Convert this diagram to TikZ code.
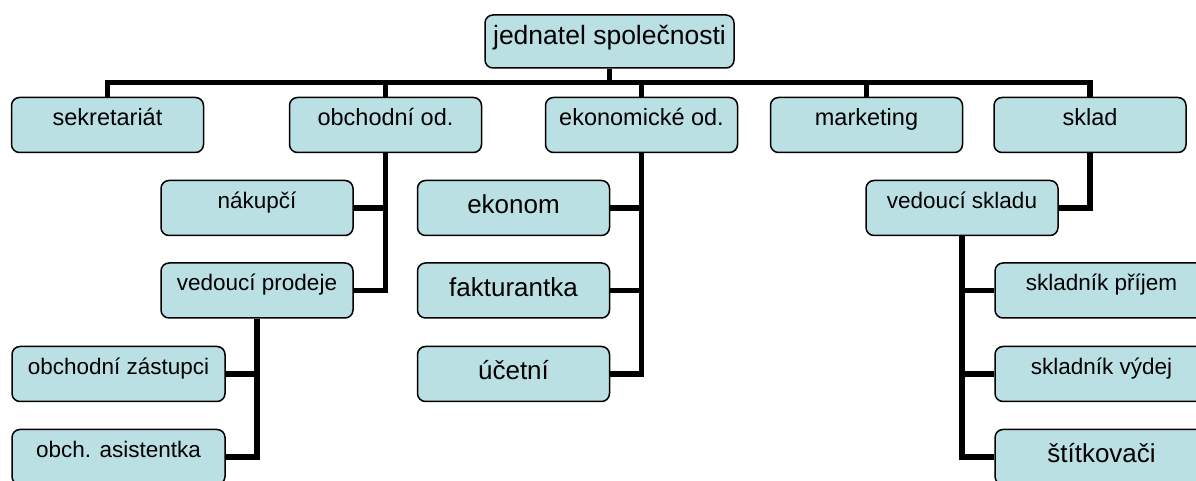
\documentclass[tikz,border=0pt]{standalone}
\usepackage{fontspec}
\setmainfont{Liberation Sans}
\definecolor{boxfill}{RGB}{187,224,227}

\begin{document}
\begin{tikzpicture}[x=1pt, y=1pt,
    unit/.style={draw, fill=boxfill, line width=1.5pt, rounded corners=8pt, minimum width=192pt,
        inner xsep=0pt, inner ysep=0pt, text height=28pt, text depth=27pt, font=\fontsize{22.5}{27}\selectfont},
    topunit/.style={unit, font=\fontsize{23.5}{28}\selectfont},
    bigunit/.style={unit, text height=33.5pt, text depth=21.5pt, font=\fontsize{26}{31}\selectfont},
    wideunit/.style={unit, minimum width=213pt},
    link/.style={line width=5.5pt}]
    \useasboundingbox (0, 0) rectangle (1196, 481);

    \node[unit, minimum width=249pt, text height=30pt, text depth=23pt, font=\fontsize{26.5}{31}\selectfont] (boss) at (609.5, 439.5) {jednatel společnosti};

    \node[topunit] (sekr) at (107.5, 356) {sekretariát};
    \node[topunit] (obch) at (385.5, 356) {obchodní od.};
    \node[topunit] (ekon) at (641.5, 356) {ekonomické od.};
    \node[topunit] (mark) at (866.5, 356) {marketing};
    \node[topunit] (sklad) at (1090, 356) {sklad};

    \node[unit] (nakup) at (257, 273) {nákupčí};
    \node[unit] (vedp) at (257, 190.5) {vedoucí prodeje};
    \node[wideunit] (zast) at (118.5, 107) {obchodní zástupci};
    \node[wideunit] (asist) at (118.5, 24) {obch. asistentka};

    \node[bigunit] (ekonom) at (513.5, 273) {ekonom};
    \node[bigunit] (faktur) at (513.5, 190.5) {fakturantka};
    \node[bigunit] (ucet) at (513.5, 107) {účetní};

    \node[unit] (veds) at (962, 273) {vedoucí skladu};
    \node[wideunit] (prij) at (1101.5, 190.5) {skladník příjem};
    \node[wideunit] (vydej) at (1101.5, 107) {skladník výdej};
    \node[bigunit, minimum width=213pt] (stit) at (1101.5, 24) {štítkovači};

    \draw[link] (boss.south) -- ++(0, -14) -| (sekr.north);
    \draw[link] (boss.south) -- ++(0, -14) -| (obch.north);
    \draw[link] (boss.south) -- ++(0, -14) -| (ekon.north);
    \draw[link] (boss.south) -- ++(0, -14) -| (mark.north);
    \draw[link] (boss.south) -- ++(0, -14) -| (sklad.north);

    \draw[link] (obch.south) |- (nakup.east);
    \draw[link] (obch.south) |- (vedp.east);
    \draw[link] (vedp.south) |- (zast.east);
    \draw[link] (vedp.south) |- (asist.east);

    \draw[link] (ekon.south) |- (ekonom.east);
    \draw[link] (ekon.south) |- (faktur.east);
    \draw[link] (ekon.south) |- (ucet.east);

    \draw[link] (sklad.south) |- (veds.east);
    \draw[link] (veds.south) |- (prij.west);
    \draw[link] (veds.south) |- (vydej.west);
    \draw[link] (veds.south) |- (stit.west);
    \end{tikzpicture}
\end{document}
